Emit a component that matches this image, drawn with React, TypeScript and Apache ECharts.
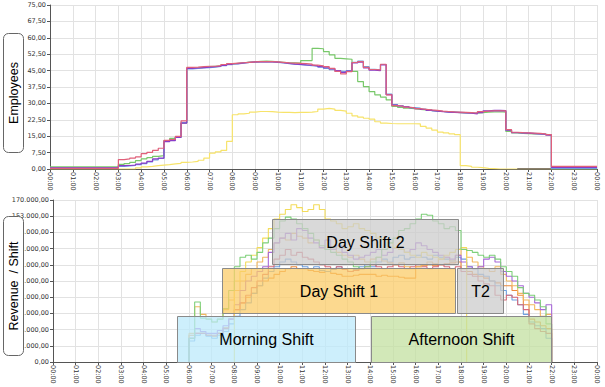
import React, { useEffect, useRef } from "react";
import * as echarts from "echarts";

// ---------- Employees (top chart), 15-minute steps starting at 00:00 ----------
const topStart = 0;
const topRed = [
  0.3, 0.3, 0.3, 0.3, 0.3, 0.3, 0.3, 0.3, 0.3, 0.3, 0.3, 0.3,
  4.3, 4.6, 5.0, 5.5, 7.0, 7.6, 8.5, 9.5, 13.1, 13.5, 14.9, 22.0,
  46.5, 46.6, 46.8, 47.0, 47.0, 47.3, 47.8, 48.2, 48.4, 48.6, 48.8, 49.0,
  49.1, 49.1, 49.1, 49.0, 48.8, 48.5, 48.4, 48.3, 48.2, 48.0, 47.5, 47.2,
  46.8, 46.0, 44.6, 43.5, 44.5, 48.7, 49.1, 46.5, 45.5, 45.3, 47.9, 33.9,
  29.0, 28.7, 28.3, 28.0, 27.6, 27.3, 27.0, 26.8, 26.5, 26.3, 26.1, 26.0,
  25.9, 25.8, 25.6, 26.2, 26.5, 26.6, 26.6, 26.6, 18.0, 16.8, 16.6, 16.5,
  16.4, 16.3, 16.1, 15.7, 1.2, 1.2, 1.2, 1.2, 1.2, 1.2, 1.2, 1.2,
];
const topGreen = [
  1.0, 1.0, 1.0, 1.0, 1.0, 1.0, 1.0, 1.0, 1.0, 1.0, 1.0, 1.0,
  2.1, 2.5, 3.0, 3.8, 4.6, 5.2, 5.8, 6.1, 13.0, 14.0, 14.5, 21.0,
  46.0, 46.2, 46.5, 46.8, 47.0, 47.2, 47.6, 48.0, 48.3, 48.6, 48.9, 49.0,
  49.2, 49.3, 49.2, 49.0, 48.8, 48.6, 48.5, 48.4, 49.6, 49.6, 55.2, 55.0,
  53.7, 52.2, 50.6, 50.4, 50.2, 44.6, 40.0, 37.7, 35.4, 33.9, 32.9, 31.6,
  28.6, 28.2, 27.8, 27.6, 27.3, 27.0, 26.8, 26.5, 26.3, 26.1, 26.0, 25.8,
  25.7, 25.6, 25.5, 25.8, 26.0, 26.1, 26.2, 26.0, 17.2, 16.5, 16.3, 16.2,
  16.1, 16.0, 15.8, 15.5, 0, 0, 0, 0, 0, 0, 0, 0,
];
const topPurple = [
  0.5, 0.5, 0.5, 0.5, 0.5, 0.5, 0.5, 0.5, 0.5, 0.5, 0.5, 0.5,
  1.5, 1.6, 1.8, 2.2, 2.7, 3.5, 4.6, 5.0, 12.5, 13.0, 14.5, 21.0,
  46.0, 46.2, 46.4, 46.6, 46.8, 47.0, 47.4, 47.8, 48.2, 48.5, 48.8, 49.0,
  49.0, 49.0, 49.0, 48.9, 48.6, 48.3, 48.0, 47.8, 47.6, 47.5, 47.2, 46.8,
  46.3, 45.8, 45.0, 44.2, 44.8, 48.5, 48.9, 46.2, 45.2, 45.0, 47.6, 34.0,
  29.2, 28.8, 28.4, 28.0, 27.6, 27.2, 26.8, 26.5, 26.2, 26.0, 25.9, 25.8,
  25.6, 25.5, 25.2, 25.8, 26.6, 26.8, 26.8, 26.7, 17.8, 16.6, 16.5, 16.4,
  16.2, 16.1, 15.9, 15.5, 0.7, 0.7, 0.7, 0.7, 0.7, 0.7, 0.7, 0.7,
];
const topBlue = [
  0.5, 0.5, 0.5, 0.5, 0.5, 0.5, 0.5, 0.5, 0.5, 0.5, 0.5, 0.5,
  1.2, 1.4, 1.6, 2.0, 2.5, 3.2, 4.2, 4.8, 12.8, 13.2, 14.6, 21.2,
  45.8, 46.0, 46.2, 46.4, 46.6, 46.9, 47.3, 47.7, 48.1, 48.4, 48.7, 48.9,
  49.0, 49.1, 49.0, 48.8, 48.5, 48.2, 47.9, 47.7, 47.5, 47.3, 47.0, 46.6,
  46.0, 45.4, 44.8, 44.6, 45.0, 48.8, 49.3, 46.8, 45.6, 45.4, 47.8, 34.2,
  29.4, 28.9, 28.5, 28.1, 27.8, 27.4, 27.0, 26.6, 26.3, 26.1, 26.0, 25.9,
  25.8, 25.6, 25.4, 26.0, 26.4, 26.5, 26.5, 26.4, 17.6, 16.7, 16.5, 16.4,
  16.3, 16.1, 15.9, 15.6, 0.3, 0.3, 0.3, 0.3, 0.3, 0.3, 0.3, 0.3,
];
const topYellow = [
  0, 0, 0, 0, 0, 0, 0, 0, 0, 0, 0, 0,
  0, 0, 0, 0.5, 1.0, 1.2, 1.5, 1.8, 2.0, 2.3, 2.6, 3.0,
  3.2, 3.5, 4.0, 5.0, 7.3, 7.8, 8.5, 12.6, 24.8, 25.2, 25.5, 26.0,
  26.3, 26.3, 26.2, 26.0, 25.9, 25.9, 25.8, 25.9, 25.9, 26.0, 26.3, 27.4,
  27.7, 27.4, 26.8, 26.5, 25.5, 24.3, 23.7, 23.2, 22.8, 21.6, 21.0, 20.8,
  20.7, 20.7, 20.7, 20.7, 20.6, 19.5, 18.7, 17.8, 16.9, 16.5, 16.1, 15.7,
  1.5, 1.2, 0.8, 0.6, 0.3, 0.2, 0, 0, 0, 0, 0, 0,
  0, 0, 0, 0, 0, 0, 0, 0, 0, 0, 0, 0,
];
const navyStart = 20.5;
const topNavy = [0.2, 0.2, 0.2, 0.2, 0.2, 0.2, 0.2, 0.2, 0.2, 0.2, 0.2, 0.2, 0.2, 0.2];

// ---------- Revenue (bottom chart), thousands, 15-minute steps ----------
const botStart = 6; // 06:00 - 21:45
const botGreen = [
  25, 63, 46, 45, 42, 45, 56, 75, 100, 110, 112, 108,
  115, 125, 130, 140, 148, 152, 150, 145, 140, 135, 128, 122,
  118, 115, 112, 108, 105, 100, 98, 100, 105, 110, 118, 125,
  130, 138, 140, 145, 150, 155, 154, 148, 145, 140, 142, 138,
  118, 117, 115, 112, 110, 112, 108, 100, 95, 90, 78, 72,
  70, 65, 58, 40,
];
const botAmber = [
  30, 58, 50, 45, 42, 45, 55, 65, 75, 85, 92, 98,
  105, 110, 118, 125, 130, 128, 135, 132, 130, 125, 128, 120,
  118, 120, 115, 112, 110, 112, 108, 105, 108, 110, 106, 104,
  102, 104, 100, 98, 100, 102, 105, 103, 108, 110, 106, 112,
  118, 110, 105, 100, 98, 95, 100, 92, 85, 80, 72, 65,
  60, 55, 48, 50,
];
const yellowStart = 8; // 08:00 - 18:15
const botYellow = [
  85, 95, 105, 112, 120, 130, 140, 150, 155, 160, 165, 162,
  158, 160, 165, 160, 150, 148, 145, 140, 142, 145, 140, 138,
  135, 130, 128, 125, 120, 118, 115, 112, 110, 115, 112, 110,
  108, 112, 115, 118, 120,
];
const botPurple = [
  25, 35, 32, 30, 30, 33, 38, 45, 60, 75, 85, 90,
  95, 100, 115, 125, 130, 135, 128, 140, 138, 130, 125, 120,
  128, 118, 122, 115, 112, 108, 110, 112, 115, 118, 112, 115,
  120, 118, 115, 118, 125, 122, 118, 115, 112, 110, 108, 112,
  105, 100, 98, 100, 108, 110, 105, 95, 90, 85, 80, 72,
  68, 62, 55, 60,
];
const botRed = [
  25, 30, 30, 28, 28, 30, 35, 45, 55, 62, 70, 78,
  85, 92, 100, 108, 112, 118, 112, 115, 110, 108, 105, 102,
  100, 98, 100, 97, 95, 96, 98, 100, 102, 100, 98, 100,
  102, 100, 98, 100, 102, 100, 98, 100, 102, 100, 98, 100,
  95, 92, 90, 85, 82, 80, 70, 65, 70, 68, 60, 55,
  40, 35, 32, 30,
];
const botBlue = [
  22, 28, 30, 27, 25, 28, 32, 40, 48, 55, 62, 72,
  80, 88, 95, 100, 105, 108, 105, 102, 100, 98, 100, 96,
  95, 97, 100, 98, 95, 97, 100, 102, 100, 105, 108, 105,
  110, 112, 108, 110, 112, 110, 108, 112, 110, 108, 106, 110,
  108, 100, 98, 92, 90, 85, 80, 75, 70, 65, 60, 50,
  42, 38, 35, 25,
];
const botOrange = [
  28, 30, 30, 28, 27, 30, 36, 45, 55, 62, 68, 72,
  80, 85, 88, 92, 95, 98, 100, 98, 98, 96, 95, 94,
  95, 93, 92, 90, 90, 91, 92, 92, 92, 90, 91, 90,
  90, 89, 88, 88, 100, 101, 102, 101, 102, 103, 104, 105,
  98, 95, 92, 90, 88, 85, 83, 80, 80, 75, 70, 60,
  45, 42, 38, 35,
];

// ---------- Shift blocks ----------
const shiftNames = ["Morning Shift", "Afternoon Shift", "Day Shift 1", "T2", "Day Shift 2"];
const shiftStart = [5.45, 14.03, 7.46, 17.84, 9.64];
const shiftEnd = [13.3, 21.96, 17.75, 19.87, 17.84];
const shiftLow = [500, 500, 51400, 51400, 102800];
const shiftHigh = [48500, 48500, 98600, 98600, 150000];
const shiftFills = [
  "rgba(188,234,251,0.75)",
  "rgba(195,224,160,0.75)",
  "rgba(251,204,106,0.75)",
  "rgba(204,204,204,0.75)",
  "rgba(204,204,204,0.75)",
];

const STEP = 0.25;
const REVENUE_UNIT = 1000;

function stepPoints(start: number, values: number[], scale = 1, fromZero = false, toZero = false) {
  const pts: number[][] = [];
  if (fromZero) pts.push([start, 0]);
  values.forEach((v, i) => {
    pts.push([start + i * STEP, v * scale]);
    pts.push([start + (i + 1) * STEP, v * scale]);
  });
  if (toZero) pts.push([start + values.length * STEP, 0]);
  return pts;
}

const hourLabel = (v: number) => String(Math.round(v) % 24).padStart(2, "0") + ":00";
const topFmt = (v: number) => v.toFixed(2).replace(".", ",");
const botFmt = (v: number) =>
  Math.round(v).toString().replace(/\B(?=(\d{3})+(?!\d))/g, ".") + ",00";

export default function App() {
  const ref = useRef<HTMLDivElement>(null);
  useEffect(() => {
    if (!ref.current) return;
    const chart = echarts.init(ref.current, undefined, { renderer: "svg" });
    const gridColor = "#e2e2e2";
    const axisColor = "#555";
    const labelStyle = { fontSize: 6.5, color: "#333", fontFamily: "DejaVu Sans" };
    const xAxisBase = (gridIndex: number) => ({
      type: "value",
      gridIndex,
      min: 0,
      max: 24,
      interval: 1,
      axisLine: { show: true, lineStyle: { color: axisColor, width: 1 } },
      axisTick: { show: true, length: 3, lineStyle: { color: axisColor } },
      axisLabel: { ...labelStyle, rotate: -90, margin: 3, formatter: hourLabel },
      splitLine: { show: true, lineStyle: { color: gridColor, width: 1 } },
    });
    const yAxisBase = (gridIndex: number, max: number, interval: number, fmt: (v: number) => string) => ({
      type: "value",
      gridIndex,
      min: 0,
      max,
      interval,
      axisLine: { show: true, lineStyle: { color: axisColor, width: 1 } },
      axisTick: { show: true, length: 3, lineStyle: { color: axisColor } },
      axisLabel: { ...labelStyle, margin: 4, formatter: fmt },
      splitLine: { show: true, lineStyle: { color: gridColor, width: 1 } },
    });
    const line = (data: number[][], color: string, axis: number, width = 1.2) => ({
      type: "line",
      xAxisIndex: axis,
      yAxisIndex: axis,
      data,
      showSymbol: false,
      symbol: "none",
      lineStyle: { color, width },
      itemStyle: { color },
      z: 2,
    });

    const topSeries = [
      line(stepPoints(navyStart, topNavy), "#1c1c6e", 0),
      line(stepPoints(topStart, topYellow), "#f7e36a", 0),
      line(stepPoints(topStart, topGreen), "#78c86a", 0),
      line(stepPoints(topStart, topBlue), "#6b9fe0", 0),
      line(stepPoints(topStart, topPurple), "#8a3cc8", 0),
      line(stepPoints(topStart, topRed), "#e0607a", 0),
    ];
    const botSeries = [
      line(stepPoints(botStart, botOrange, REVENUE_UNIT, true, true), "#ec8a3c", 1, 1.1),
      line(stepPoints(botStart, botBlue, REVENUE_UNIT, true, true), "#6ea0e0", 1, 1.1),
      line(stepPoints(botStart, botRed, REVENUE_UNIT, true, true), "#d86a78", 1, 1.1),
      line(stepPoints(botStart, botAmber, REVENUE_UNIT, true, true), "#f2b860", 1, 1.1),
      line(stepPoints(botStart, botPurple, REVENUE_UNIT, true, true), "#a868d8", 1, 1.1),
      line(stepPoints(yellowStart, botYellow, REVENUE_UNIT, true, true), "#f3dc5a", 1, 1.1),
      line(stepPoints(botStart, botGreen, REVENUE_UNIT, true, true), "#7ed07a", 1, 1.1),
    ];

    const shiftData = shiftNames.map((_, i) => [shiftStart[i], shiftEnd[i], shiftLow[i], shiftHigh[i], i]);
    const shiftSeries = {
      type: "custom",
      xAxisIndex: 1,
      yAxisIndex: 1,
      z: 5,
      encode: { x: [0, 1], y: [2, 3] },
      data: shiftData,
      renderItem: (_params: any, api: any) => {
        const idx = api.value(4);
        const p1 = api.coord([api.value(0), api.value(3)]);
        const p2 = api.coord([api.value(1), api.value(2)]);
        const x = Math.round(p1[0]) + 0.5;
        const y = Math.round(p1[1]) + 0.5;
        const w = Math.round(p2[0] - p1[0]);
        const h = Math.round(p2[1] - p1[1]);
        return {
          type: "group",
          children: [
            {
              type: "rect",
              shape: { x, y, width: w, height: h },
              style: { fill: shiftFills[idx], stroke: "#8a8a8a", lineWidth: 1 },
            },
            {
              type: "text",
              style: {
                text: shiftNames[idx],
                x: x + w / 2,
                y: y + h / 2,
                align: "center",
                verticalAlign: "middle",
                font: '16px "Liberation Sans"',
                fill: "#000",
              },
            },
          ],
        };
      },
    };

    chart.setOption({
      animation: false,
      backgroundColor: "#fff",
      grid: [
        { left: 50, right: 8, top: 5, height: 164 },
        { left: 53, right: 8, top: 200, height: 162 },
      ],
      xAxis: [xAxisBase(0), xAxisBase(1)],
      yAxis: [yAxisBase(0, 75, 7.5, topFmt), yAxisBase(1, 170000, 17000, botFmt)],
      series: [...topSeries, ...botSeries, shiftSeries],
      graphic: [
        {
          type: "rect",
          z: 100,
          zlevel: 1,
          shape: { x: 3.5, y: 33.5, width: 20, height: 119, r: 5 },
          style: { fill: "#fff", stroke: "#666", lineWidth: 1 },
        },
        {
          type: "text",
          z: 101,
          zlevel: 1,
          x: 14,
          y: 93,
          rotation: Math.PI / 2,
          style: {
            text: "Employees",
            font: '12.5px "Liberation Sans"',
            align: "center",
            verticalAlign: "middle",
            fill: "#000",
          },
        },
        {
          type: "rect",
          z: 100,
          zlevel: 1,
          shape: { x: 3.5, y: 216.5, width: 20, height: 139, r: 5 },
          style: { fill: "#fff", stroke: "#666", lineWidth: 1 },
        },
        {
          type: "text",
          z: 101,
          zlevel: 1,
          x: 14,
          y: 286,
          rotation: Math.PI / 2,
          style: {
            text: "Revenue  / Shift",
            font: '12.5px "Liberation Sans"',
            align: "center",
            verticalAlign: "middle",
            fill: "#000",
          },
        },
      ],
    });
    return () => chart.dispose();
  }, []);
  return (
    <div
      ref={ref}
      style={{ position: "fixed", left: 0, top: 0, width: 605, height: 387 }}
    />
  );
}
